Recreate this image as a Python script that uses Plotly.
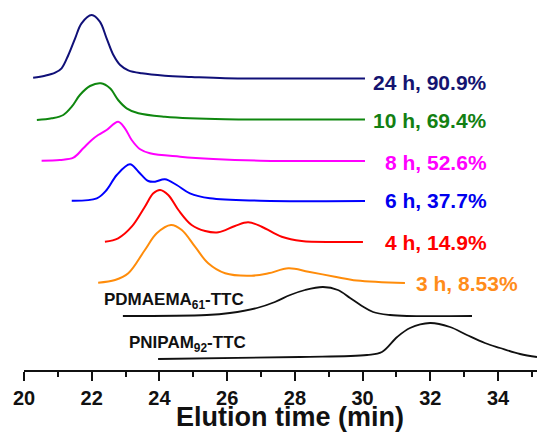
import plotly.graph_objects as go

# ---- data (elution time in min, stacked signal height) ----
t_24h = [20.27, 20.62, 20.92, 21.11, 21.31, 21.51, 21.70, 22.00, 22.24, 22.44, 22.64, 22.84, 23.08, 23.48, 24.16, 24.95, 25.94, 28.15, 30.07]
y_24h = [292.3, 294.3, 297.3, 301.7, 315, 331.7, 346.7, 355, 348.3, 331.7, 315, 305, 299.7, 296.7, 294.3, 293, 291.7, 291.5, 291.5]

t_10h = [20.38, 20.82, 21.16, 21.41, 21.65, 21.95, 22.27, 22.54, 22.78, 23.03, 23.38, 24.16, 25.94, 28.15, 30.07]
y_10h = [250, 251.7, 255, 263.3, 275, 284, 286.7, 281.7, 270, 261.7, 256.7, 253.3, 250.7, 250.5, 250.5]

t_8h = [20.52, 21.06, 21.46, 21.75, 22.00, 22.19, 22.44, 22.78, 22.98, 23.18, 23.43, 23.72, 24.61, 25.59, 26.97, 30.07]
y_8h = [209.3, 210, 212.3, 221.7, 230, 235, 240, 248.3, 241.7, 230, 220.7, 216.7, 213.3, 211, 209.3, 209]

t_6h = [21.41, 22.15, 22.44, 22.74, 23.13, 23.38, 23.67, 23.87, 24.16, 24.51, 24.90, 25.49, 26.97, 30.07]
y_6h = [169.3, 171.7, 180, 195, 205.7, 198.3, 189, 188.3, 190.7, 185, 176.7, 171.7, 169.3, 169]

t_4h = [22.39, 22.78, 23.18, 23.57, 23.82, 24.02, 24.26, 24.56, 24.95, 25.35, 25.74, 26.23, 26.62, 27.02, 27.61, 28.20, 29.18, 30.01]
y_4h = [128.3, 131.7, 143.3, 163.3, 176.7, 180, 175, 160, 145, 139, 137.7, 144, 147.7, 143.3, 133.3, 129, 128, 128]

t_3h = [22.19, 22.69, 23.08, 23.57, 23.92, 24.34, 24.66, 25.05, 25.44, 25.94, 26.72, 27.22, 27.81, 28.40, 29.18, 29.83, 31.25]
y_3h = [87.3, 90, 96.7, 120, 136.7, 145, 140, 123.3, 106.7, 96.7, 94.3, 96.7, 101.7, 98.3, 93.3, 89.5, 87]

t_pdmaema = [22.92, 25.40, 26.08, 26.88, 27.41, 27.86, 28.30, 28.83, 29.27, 29.63, 29.98, 30.31, 30.81, 31.31, 33.23]
y_pdmaema = [54, 55, 57, 62, 68, 75, 80, 83, 80, 72, 64, 58, 55, 54, 54]

t_pnipam = [23.96, 28.15, 30.13, 30.57, 31.02, 31.40, 31.99, 32.58, 33.08, 33.61, 34.06, 34.65, 35.15]
y_pnipam = [11, 13, 15, 18, 33, 42, 47, 43, 35, 27, 22, 16, 13]

series = [
    ("24 h, 90.9%", t_24h, y_24h, "#101078", "#141470", 288),
    ("10 h, 69.4%", t_10h, y_10h, "#0f870f", "#138013", 250),
    ("8 h, 52.6%", t_8h, y_8h, "#ff00ff", "#ff00ff", 208),
    ("6 h, 37.7%", t_6h, y_6h, "#0000ff", "#0000ee", 170),
    ("4 h, 14.9%", t_4h, y_4h, "#ff0000", "#ff0000", 128),
    ("3 h, 8.53%", t_3h, y_3h, "#ff8c0a", "#ff8c1a", 87),
]
label_x = [33.73, 33.73, 33.73, 33.73, 33.73, 34.65]

black_labels = [
    ("PDMAEMA<sub>61</sub>-TTC", t_pdmaema, y_pdmaema, 22.30, 69),
    ("PNIPAM<sub>92</sub>-TTC", t_pnipam, y_pnipam, 23.04, 26),
]

FONT = "Liberation Sans, Arial, sans-serif"

fig = go.Figure()
annotations = []
for (name, t, y, lc, tc, ly), lx in zip(series, label_x):
    fig.add_trace(go.Scatter(x=t, y=y, mode="lines", name=name,
                             line=dict(color=lc, width=2, shape="spline", smoothing=1),
                             hoverinfo="skip", showlegend=False))
    annotations.append(dict(x=lx, y=ly, xref="x", yref="y", text=name, showarrow=False,
                            xanchor="right", yanchor="middle",
                            font=dict(family=FONT, size=21, color=tc, weight="bold")))

for name, t, y, lx, ly in black_labels:
    fig.add_trace(go.Scatter(x=t, y=y, mode="lines", name=name,
                             line=dict(color="#111111", width=1.8, shape="spline", smoothing=1),
                             hoverinfo="skip", showlegend=False))
    annotations.append(dict(x=lx, y=ly, xref="x", yref="y", text=name, showarrow=False,
                            xanchor="left", yanchor="middle",
                            font=dict(family=FONT, size=17, color="#111111", weight="bold")))

annotations.append(dict(x=0.5185, y=-0.128, xref="paper", yref="paper",
                        text="Elution time (min)", showarrow=False,
                        xanchor="center", yanchor="middle",
                        font=dict(family=FONT, size=27, color="#111111", weight="bold")))

fig.update_layout(
    width=537, height=432,
    margin=dict(l=24, r=0, t=0, b=62),
    paper_bgcolor="white", plot_bgcolor="white",
    annotations=annotations,
    xaxis=dict(range=[20, 35.15], showgrid=False, zeroline=False,
               showline=True, linecolor="#111111", linewidth=2,
               ticks="outside", ticklen=9, tickwidth=2, tickcolor="#111111",
               tick0=20, dtick=2,
               minor=dict(ticks="outside", ticklen=5, tickwidth=2, tickcolor="#111111", dtick=1),
               tickfont=dict(family=FONT, size=20, color="#111111", weight="bold")),
    yaxis=dict(range=[0, 370], visible=False, showgrid=False, zeroline=False),
)

fig.write_html("out.html")
